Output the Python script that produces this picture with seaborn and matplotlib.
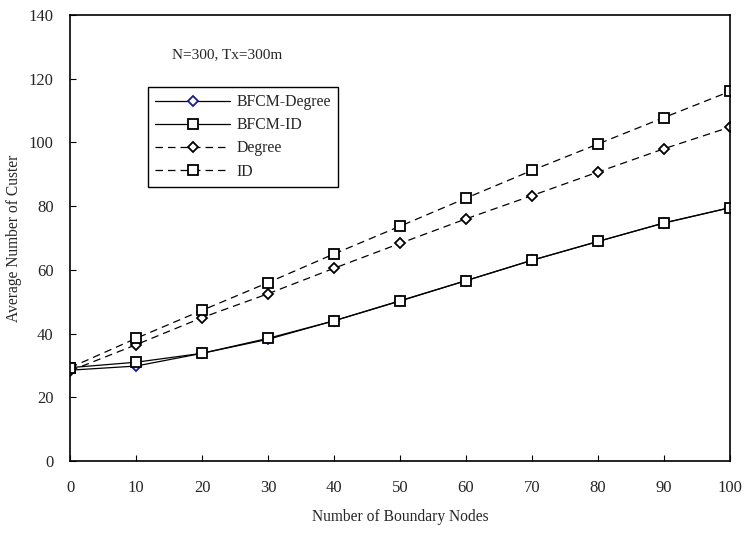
import matplotlib
matplotlib.use("Agg")
import matplotlib.pyplot as plt
import seaborn as sns
import pandas as pd

boundary_nodes = [0, 10, 20, 30, 40, 50, 60, 70, 80, 90, 100]
bfcm_degree = [28.5, 29.8, 33.8, 38.2, 44.0, 50.2, 56.6, 63.0, 68.9, 74.7, 79.5]
bfcm_id = [29.3, 31.0, 33.8, 38.5, 44.0, 50.3, 56.6, 63.0, 68.9, 74.7, 79.5]
degree = [28.3, 36.5, 45.0, 52.5, 60.5, 68.3, 76.0, 83.3, 90.7, 98.0, 104.8]
ids = [29.3, 38.5, 47.3, 56.0, 65.0, 73.7, 82.5, 91.2, 99.5, 107.8, 116.0]
series_names = ["BFCM-Degree", "BFCM-ID", "Degree", "ID"]

sns.set_style("white")
plt.rcParams['font.family'] = ['Liberation Serif', 'DejaVu Serif']

fig = plt.figure(figsize=(7.47, 5.36), dpi=100)
ax = fig.add_axes([0.094, 0.14, 0.883, 0.832])

styles = [
    dict(marker='D', linestyle='-', mec='#1a1a8c', ms=5.0),
    dict(marker='s', linestyle='-', mec='black', ms=7),
    dict(marker='D', linestyle=(0, (6, 4)), mec='black', ms=5.0),
    dict(marker='s', linestyle=(0, (6, 4)), mec='black', ms=7),
]
data = [bfcm_degree, bfcm_id, degree, ids]
for name, vals, st in zip(series_names, data, styles):
    df = pd.DataFrame({"x": boundary_nodes, "y": vals})
    sns.lineplot(data=df, x="x", y="y", ax=ax, color='black', linewidth=0.9,
                 marker=st['marker'], linestyle=st['linestyle'], markersize=st['ms'],
                 markerfacecolor='white', markeredgecolor=st['mec'], markeredgewidth=1.3,
                 label=name)

ax.set_xlim(0, 100)
ax.set_ylim(0, 140)
ax.set_xticks(range(0, 101, 10))
ax.set_yticks(range(0, 141, 20))
ax.tick_params(axis='both', direction='in', length=4, width=0.8, labelsize=12,
               bottom=True, left=True, top=False, right=False, color='black')
ax.tick_params(axis='x', pad=14)
ax.tick_params(axis='y', pad=12)
for s in ax.spines.values():
    s.set_color('black')
    s.set_linewidth(1.2)

ax.set_xlabel("Number of Boundary Nodes", fontsize=11.2, labelpad=9)
ax.set_ylabel("Average Number of Custer", fontsize=11.2, labelpad=5)

ax.text(15.5, 127.5, "N=300, Tx=300m", fontsize=11, ha='left', va='center')

leg = ax.legend(loc='upper left', bbox_to_anchor=(0.118, 0.838), fontsize=11.3,
                frameon=True, fancybox=False, edgecolor='black', framealpha=1,
                handlelength=4.8, handletextpad=0.4, borderpad=0.45,
                labelspacing=0.45, borderaxespad=0)
leg.get_frame().set_linewidth(1.0)

fig.savefig("out.png", dpi=100)
